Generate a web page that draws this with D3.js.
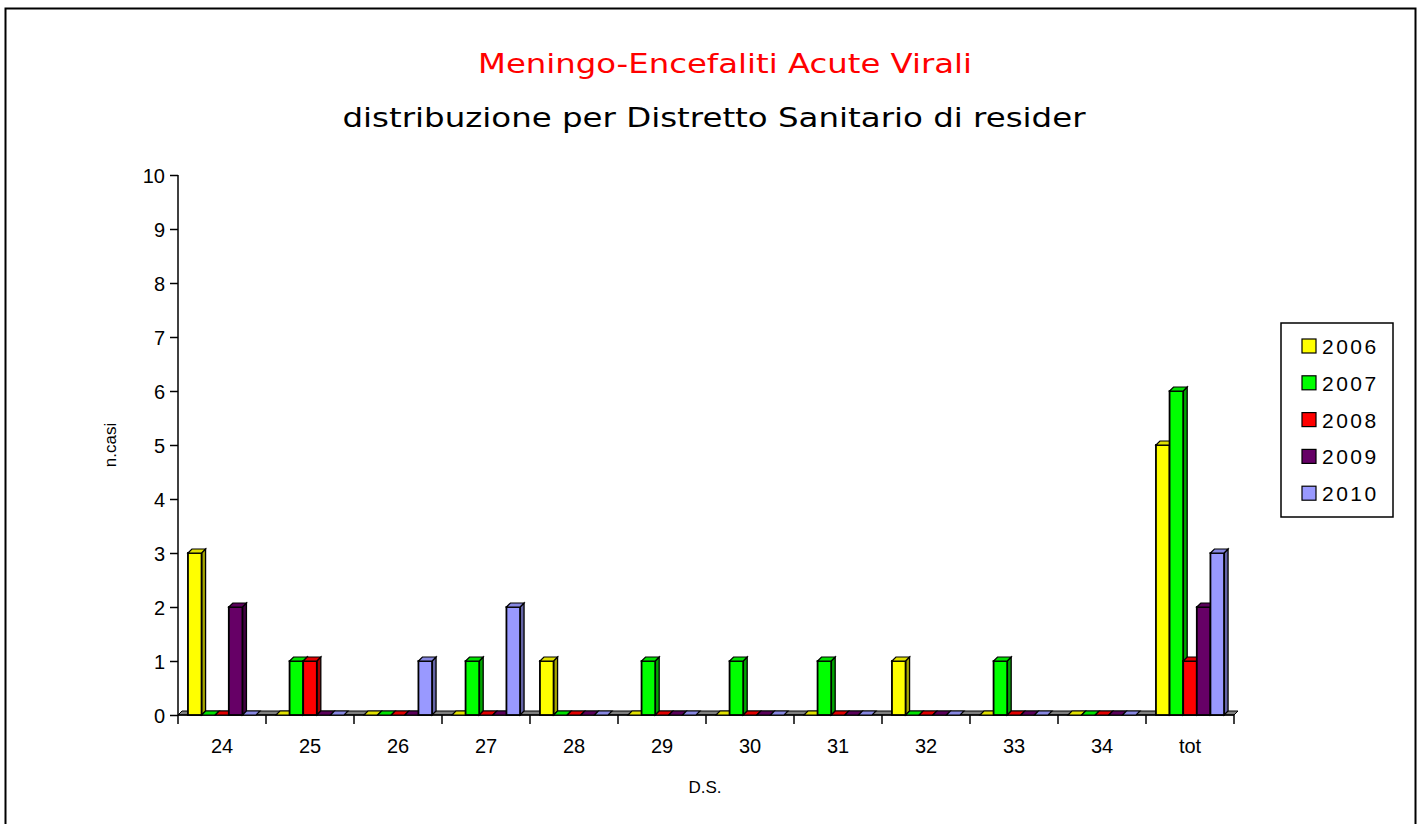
<!DOCTYPE html>
<html>
<head>
<meta charset="utf-8">
<script src="https://cdn.jsdelivr.net/npm/d3@7"></script>
<style>
  body { margin: 0; background: #fff; }
  svg { display: block; }
  text { font-family: "Liberation Sans", Arial, sans-serif; }
</style>
</head>
<body>
<div id="chart"></div>
<script>
// chart data
var categories = ["24", "25", "26", "27", "28", "29", "30", "31", "32", "33", "34", "tot"];
var years = ["2006", "2007", "2008", "2009", "2010"];
var colors = ["#ffff00", "#00ff00", "#ff0000", "#660066", "#9999ff"];
var v2006 = [3, 0, 0, 0, 1, 0, 0, 0, 1, 0, 0, 5];
var v2007 = [0, 1, 0, 1, 0, 1, 1, 1, 0, 1, 0, 6];
var v2008 = [0, 1, 0, 0, 0, 0, 0, 0, 0, 0, 0, 1];
var v2009 = [2, 0, 0, 0, 0, 0, 0, 0, 0, 0, 0, 2];
var v2010 = [0, 0, 1, 2, 0, 0, 0, 0, 0, 0, 0, 3];
var series = [v2006, v2007, v2008, v2009, v2010];
var yTicks = [0, 1, 2, 3, 4, 5, 6, 7, 8, 9, 10];

var W = 1423, H = 824;
var plot = {left: 178, right: 1234, top: 175, bottom: 715};
var depth = 4; // 3d offset

var svg = d3.select("#chart").append("svg")
  .attr("width", W).attr("height", H);

// outer frame
svg.append("rect")
  .attr("x", 5.5).attr("y", 8.5)
  .attr("width", 1410).attr("height", 840)
  .attr("fill", "none").attr("stroke", "#000").attr("stroke-width", 2);

// titles
svg.append("text")
  .attr("x", 725).attr("y", 73)
  .attr("text-anchor", "middle")
  .attr("fill", "#ff0000")
  .style("font-family", "'DejaVu Sans', sans-serif")
  .style("font-size", "26px")
  .attr("textLength", 494).attr("lengthAdjust", "spacingAndGlyphs")
  .text("Meningo-Encefaliti Acute Virali");

svg.append("text")
  .attr("x", 714).attr("y", 127)
  .attr("text-anchor", "middle")
  .attr("fill", "#000")
  .style("font-family", "'DejaVu Sans', sans-serif")
  .style("font-size", "26px")
  .attr("textLength", 743).attr("lengthAdjust", "spacingAndGlyphs")
  .text("distribuzione per Distretto Sanitario di resider");

// scales
var x = d3.scaleBand().domain(categories).range([plot.left, plot.right]).paddingInner(0).paddingOuter(0);
var xs = d3.scaleBand().domain(years).range([0, x.bandwidth()]).paddingOuter(0.73).paddingInner(0);
var y = d3.scaleLinear().domain([0, 10]).range([plot.bottom, plot.top]);

// floor slab
svg.append("polygon")
  .attr("points", [
    [plot.left, plot.bottom], [plot.right, plot.bottom],
    [plot.right + depth, plot.bottom - depth], [plot.left + depth, plot.bottom - depth]
  ].map(p => p.join(",")).join(" "))
  .attr("fill", "#808080").attr("stroke", "#000").attr("stroke-width", 1);

// y axis
var yAxis = d3.axisLeft(y).tickValues(yTicks).tickSize(8).tickPadding(5);
var gy = svg.append("g")
  .attr("transform", "translate(" + plot.left + ",0)")
  .call(yAxis);
gy.select(".domain").attr("d", "M0," + plot.top + "V" + plot.bottom).attr("stroke-width", 1.5);
gy.selectAll(".tick line").attr("stroke-width", 1.5);
gy.selectAll("text").style("font-size", "20px").attr("fill", "#000").attr("dy", "0.36em");

// x axis
var bounds = categories.map(c => x(c)).concat([plot.right]);
var gx = svg.append("g");
gx.append("line")
  .attr("x1", plot.left).attr("x2", plot.right)
  .attr("y1", plot.bottom).attr("y2", plot.bottom)
  .attr("stroke", "#000").attr("stroke-width", 1.5);
gx.selectAll(".xt").data(bounds).enter().append("line")
  .attr("x1", d => d).attr("x2", d => d)
  .attr("y1", plot.bottom).attr("y2", plot.bottom + 9)
  .attr("stroke", "#000").attr("stroke-width", 1.5);
gx.selectAll(".xl").data(categories).enter().append("text")
  .attr("x", d => x(d) + x.bandwidth() / 2)
  .attr("y", 753)
  .attr("text-anchor", "middle")
  .style("font-size", "20px")
  .text(d => d);

// axis titles
svg.append("text")
  .attr("transform", "translate(116,445) rotate(-90)")
  .attr("text-anchor", "middle")
  .style("font-size", "17px")
  .text("n.casi");
svg.append("text")
  .attr("x", 705).attr("y", 793)
  .attr("text-anchor", "middle")
  .style("font-size", "17px")
  .text("D.S.");

// bars (3d look: front, top, side)
var barData = [];
categories.forEach((c, i) => {
  years.forEach((yr, j) => {
    barData.push({cat: c, year: yr, value: series[j][i], color: colors[j]});
  });
});

var bars = svg.append("g").selectAll("g").data(barData).enter().append("g");

bars.each(function (d) {
  var g = d3.select(this);
  var x0 = x(d.cat) + xs(d.year);
  var w = xs.bandwidth();
  var yTop = y(d.value);
  var yBase = plot.bottom;
  var dark = d3.color(d.color).darker(1.2);
  var mid = d3.color(d.color).darker(0.35);
  if (d.value > 0) {
    // side
    g.append("polygon")
      .attr("points", [[x0 + w, yTop], [x0 + w + depth, yTop - depth], [x0 + w + depth, yBase - depth], [x0 + w, yBase]].map(p => p.join(",")).join(" "))
      .attr("fill", dark).attr("stroke", "#000").attr("stroke-width", 1.3);
    // front
    g.append("rect")
      .attr("x", x0).attr("y", yTop)
      .attr("width", w).attr("height", yBase - yTop)
      .attr("fill", d.color).attr("stroke", "#000").attr("stroke-width", 1.8);
  }
  // top
  g.append("polygon")
    .attr("points", [[x0, yTop], [x0 + w, yTop], [x0 + w + depth, yTop - depth], [x0 + depth, yTop - depth]].map(p => p.join(",")).join(" "))
    .attr("fill", mid).attr("stroke", "#000").attr("stroke-width", 1.2);
});

// legend
var lg = svg.append("g");
lg.append("rect")
  .attr("x", 1281).attr("y", 323)
  .attr("width", 112).attr("height", 194)
  .attr("fill", "#fff").attr("stroke", "#000").attr("stroke-width", 1.5);
var li = lg.selectAll(".li").data(years).enter().append("g")
  .attr("transform", (d, i) => "translate(1302," + (339 + i * 36.8) + ")");
li.append("rect")
  .attr("width", 14).attr("height", 14)
  .attr("fill", (d, i) => colors[i])
  .attr("stroke", "#000").attr("stroke-width", 1.2);
li.append("text")
  .attr("x", 20).attr("y", 15)
  .style("font-size", "21px")
  .style("letter-spacing", "2.5px")
  .text(d => d);
</script>
</body>
</html>
